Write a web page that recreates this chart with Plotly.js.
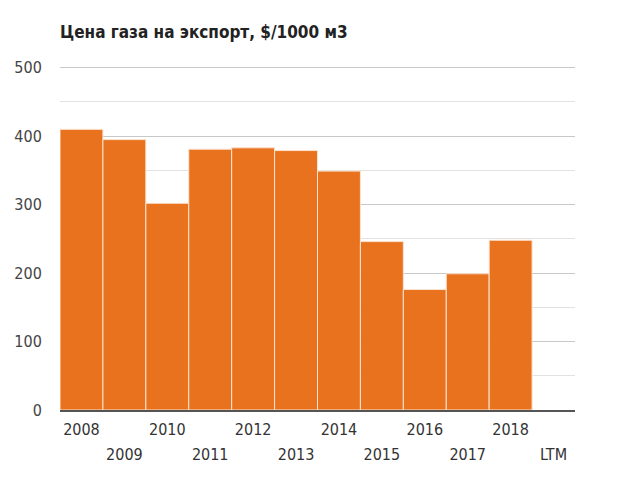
<!DOCTYPE html>
<html>
<head>
<meta charset="utf-8">
<script src="https://cdn.plot.ly/plotly-3.0.1.min.js"></script>
<style>html,body{margin:0;padding:0;background:#fff;}#chart{width:620px;height:480px;}</style>
</head>
<body>
<div id="chart"></div>
<script>
const categories = ["2008","2009","2010","2011","2012","2013","2014","2015","2016","2017","2018","LTM"];
const prices = [410, 395, 302, 381, 383, 379, 349, 246, 176, 199, 248, null];
const rowOneLabels = ["2008","2010","2012","2014","2016","2018"];
const rowTwoLabels = ["2009","2011","2013","2015","2017","LTM"];
const yTicks = [0, 100, 200, 300, 400, 500];
const titleText = "Цена газа на экспорт, $/1000 м3";

const FONT = "'DejaVu Sans Condensed', 'DejaVu Sans', sans-serif";

const traces = [
  {
    type: "bar",
    x: categories,
    y: prices,
    marker: { color: "#E8721D", line: { color: "#FBE3D0", width: 1 } },
    hoverinfo: "x+y"
  },
  {
    type: "bar",
    x: categories,
    y: categories.map(() => null),
    xaxis: "x2",
    showlegend: false,
    hoverinfo: "skip"
  }
];

const layout = {
  width: 620,
  height: 480,
  margin: { l: 60, r: 45, t: 65, b: 70 },
  paper_bgcolor: "#ffffff",
  plot_bgcolor: "#ffffff",
  showlegend: false,
  bargap: 0,
  font: { family: FONT, size: 16, color: "#444444" },
  title: {
    text: "<b>" + titleText + "</b>",
    x: 0, xref: "paper", xanchor: "left",
    y: 33, yref: "container", yanchor: "middle",
    font: { family: FONT, size: 17, color: "#222222" }
  },
  xaxis: {
    type: "category",
    categoryorder: "array",
    categoryarray: categories,
    range: [-0.5, categories.length - 0.5],
    tickmode: "array",
    tickvals: rowOneLabels,
    ticktext: rowOneLabels,
    ticks: "outside",
    ticklen: 4,
    tickcolor: "rgba(0,0,0,0)",
    showgrid: false,
    showline: true,
    linecolor: "#555555",
    linewidth: 1.5,
    zeroline: false,
    tickfont: { family: FONT, size: 16, color: "#333333" },
    fixedrange: true
  },
  xaxis2: {
    type: "category",
    overlaying: "x",
    matches: "x",
    anchor: "y",
    side: "bottom",
    categoryorder: "array",
    categoryarray: categories,
    range: [-0.5, categories.length - 0.5],
    tickmode: "array",
    tickvals: rowTwoLabels,
    ticktext: rowTwoLabels,
    ticks: "outside",
    ticklen: 30,
    tickcolor: "rgba(0,0,0,0)",
    showgrid: false,
    showline: false,
    zeroline: false,
    tickfont: { family: FONT, size: 16, color: "#333333" },
    fixedrange: true
  },
  yaxis: {
    range: [0, 504],
    tickmode: "array",
    tickvals: yTicks,
    ticks: "outside",
    ticklen: 14,
    tickcolor: "rgba(0,0,0,0)",
    showgrid: true,
    gridcolor: "#c8c8c8",
    gridwidth: 1,
    zeroline: false,
    showline: false,
    minor: { dtick: 50, showgrid: true, gridcolor: "#e2e2e2", gridwidth: 1, ticks: "" },
    tickfont: { family: FONT, size: 16, color: "#444444" },
    fixedrange: true
  }
};

Plotly.newPlot("chart", traces, layout, { displayModeBar: false, staticPlot: true });
</script>
</body>
</html>
